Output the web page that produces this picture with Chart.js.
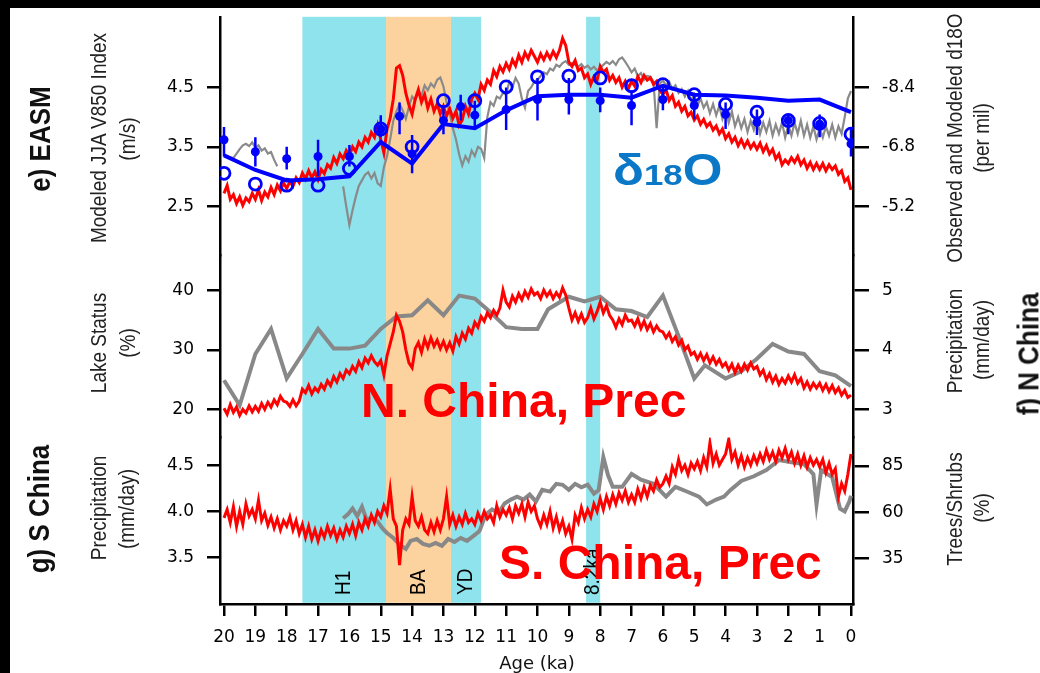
<!DOCTYPE html>
<html>
<head>
<meta charset="utf-8">
<script src="https://cdn.jsdelivr.net/npm/chart.js@4.4.1/dist/chart.umd.min.js"></script>
<style>
  html, body { margin: 0; padding: 0; background: #000; width: 1040px; height: 673px; overflow: hidden; }
  #panel { position: absolute; left: 10px; top: 8px; width: 1030px; height: 665px; background: #fff; }
  #chart { position: absolute; left: 0; top: 0; }
  .t { position: absolute; white-space: nowrap; font-family: "Liberation Sans", Arial, sans-serif; color: #222; font-size: 19px; line-height: 19px; }
  .rot { transform: translate(-50%, -50%) rotate(-90deg) scale(1, 1.17); }
  .big { font-weight: bold; font-size: 26px; line-height: 26px; color: #111; }
  .note { font-weight: bold; font-size: 48px; line-height: 48px; color: #ff0000; }
</style>
</head>
<body>
<div id="panel"><canvas id="chart" width="1030" height="665"></canvas></div>

<!-- left titles -->
<div class="t rot big" style="left:39px; top:139px;">e) EASM</div>
<div class="t rot" style="left:98px; top:138px;">Modeled JJA V850 Index</div>
<div class="t rot" style="left:127px; top:139px;">(m/s)</div>
<div class="t rot" style="left:98px; top:343px;">Lake Status</div>
<div class="t rot" style="left:127px; top:343px;">(%)</div>
<div class="t rot big" style="left:38px; top:509px;">g) S China</div>
<div class="t rot" style="left:98px; top:508px;">Precipitation</div>
<div class="t rot" style="left:126px; top:509px;">(mm/day)</div>

<!-- right titles -->
<div class="t rot" style="left:954px; top:138px;">Observed and Modeled d18O</div>
<div class="t rot" style="left:981px; top:138px;">(per mil)</div>
<div class="t rot" style="left:954px; top:341px;">Precipitation</div>
<div class="t rot" style="left:981px; top:340px;">(mm/day)</div>
<div class="t rot big" style="left:1028px; top:354px;">f) N China</div>
<div class="t rot" style="left:954px; top:509px;">Trees/Shrubs</div>
<div class="t rot" style="left:981px; top:508px;">(%)</div>

<div class="t" style="left:537px; top:662px; transform: translate(-50%, -50%); font-family: 'DejaVu Sans', sans-serif; font-size: 18px; color: #111;">Age (ka)</div>

<!-- annotations -->
<div class="t" style="left:613px; top:148px; font-weight:bold; font-size:44px; line-height:44px; color:#0a78c6; transform: scaleX(1.16); transform-origin: left center;">δ<span style="font-size:30px;">18</span>O</div>
<div class="t note" style="left:361px; top:377px;">N. China, Prec</div>
<div class="t note" style="left:499px; top:539px;">S. China, Prec</div>

<script>
// ages of the tick marks and of the model blue line / circles (ka)
const ageTicks = [20, 19, 18, 17, 16, 15, 14, 13, 12, 11, 10, 9, 8, 7, 6, 5, 4, 3, 2, 1, 0];

// e) modeled JJA V850 index (m/s), every 0.1 ka from 20 to 0
const easmV850 = [
  2.72, 2.85, 2.62, 2.70, 2.55, 2.66, 2.52, 2.64, 2.58, 2.72,
  2.62, 2.78, 2.60, 2.74, 2.66, 2.82, 2.70, 2.86, 2.76, 2.90,
  2.80, 2.92, 2.84, 2.98, 2.90, 3.06, 2.96, 3.10, 2.98, 3.08,
  2.95, 3.12, 3.05, 3.20, 3.14, 3.32, 3.22, 3.38, 3.30, 3.44,
  3.36, 3.50, 3.42, 3.58, 3.50, 3.66, 3.58, 3.74, 3.66, 3.86,
  3.62, 3.40, 3.80, 3.98, 4.30, 4.82, 4.86, 4.70, 4.40, 4.20,
  4.05, 4.30, 4.46, 4.25, 4.38, 4.15, 4.30, 4.10, 4.22, 4.05,
  4.18, 4.02, 4.14, 3.98, 4.10, 3.86, 3.95, 4.18, 4.05, 4.30,
  4.40, 4.30, 4.55, 4.45, 4.62, 4.55, 4.78, 4.68, 4.85, 4.76,
  4.90, 4.80, 4.96, 4.86, 5.04, 4.92, 5.08, 4.98, 5.12, 5.02,
  4.92, 5.06, 4.96, 5.08, 4.98, 5.10, 5.00, 5.12, 5.32, 5.20,
  4.92, 4.85, 4.95, 4.78, 4.82, 4.66, 4.72, 4.55, 4.68, 4.62,
  4.85, 4.75, 4.80, 4.62, 4.70, 4.58, 4.66, 4.50, 4.60, 4.48,
  4.60, 4.52, 4.68, 4.58, 4.70, 4.62, 4.66, 4.55, 4.60, 4.45,
  4.38, 4.46, 4.28, 4.36, 4.18, 4.25, 4.10, 4.18, 4.02, 4.08,
  3.95, 4.02, 3.88, 3.96, 3.84, 3.90, 3.78, 3.85, 3.72, 3.80,
  3.64, 3.72, 3.58, 3.66, 3.52, 3.62, 3.50, 3.60, 3.48, 3.56,
  3.46, 3.56, 3.42, 3.52, 3.38, 3.46, 3.30, 3.38, 3.20, 3.28,
  3.22, 3.32, 3.24, 3.34, 3.20, 3.28, 3.14, 3.24, 3.12, 3.22,
  3.12, 3.22, 3.10, 3.20, 3.12, 3.18, 3.04, 3.10, 2.92, 2.98,
  2.78
];

// e) observed speleothem d18O (per mil), same 0.1 ka grid, null = no record
const obsD18O = [
  null, -6.55, -6.52, -6.50, -6.62, -6.74, -6.84, -6.88, -6.82, -6.92,
  -6.78, -6.84, -6.70, -6.76, -6.62, -6.66, -6.45, -6.28, null, null,
  null, null, null, null, null, null, null, null, null, null,
  null, null, null, null, null, null, null, null, -5.74, -5.20,
  -4.70, -5.10, -5.45, -5.75, -5.90, -6.05, -6.12, -5.95, -6.10, -5.82,
  -5.75, -6.25, -6.55, -7.00, -7.50, -7.75, -7.95, -7.78, -7.55, -7.88,
  -8.15, -8.05, -8.30, -8.18, -8.45, -8.32, -8.50, -8.40, -8.60, -8.66,
  -8.42, -8.00, -7.70, -7.30, -7.00, -6.60, -6.30, -6.55, -6.40, -6.70,
  -6.55, -6.80, -6.75, -6.50, -7.60, -8.00, -7.90, -8.15, -8.10, -8.25,
  -8.20, -8.55, -8.40, -8.65, -8.50, -8.10, -7.85, -8.30, -8.40, -8.55,
  -8.60, -8.70, -8.80, -8.75, -8.90, -8.85, -9.00, -8.95, -9.05, -9.10,
  -9.00, -9.05, -9.00, -8.95, -9.02, -8.92, -8.98, -8.88, -8.95, -8.85,
  -8.92, -9.00, -9.08, -9.02, -9.10, -9.00, -9.15, -9.20, -9.08, -8.95,
  -8.80, -8.90, -8.70, -8.78, -8.60, -8.70, -8.68, -8.55, -7.30, -8.50,
  -8.58, -8.45, -8.55, -8.35, -8.45, -8.25, -8.35, -8.15, -8.30, -8.05,
  -8.20, -7.90, -8.10, -7.85, -8.00, -7.70, -7.95, -7.65, -7.90, -7.55,
  -7.80, -7.45, -7.75, -7.35, -7.60, -7.30, -7.55, -7.20, -7.50, -7.25,
  -7.55, -7.15, -7.45, -7.20, -7.50, -7.10, -7.40, -7.15, -7.45, -7.05,
  -7.40, -7.10, -7.45, -7.15, -7.50, -7.10, -7.40, -7.05, -7.35, -7.00,
  -7.30, -7.05, -7.35, -7.10, -7.40, -7.05, -7.35, -7.15, -7.60, -8.10,
  -8.30
];

// e) modeled d18O line and open circles, at ageTicks
const d18oModel = [-6.57, -6.18, -5.90, -5.93, -6.01, -6.93, -6.35, -7.41, -7.30, -7.78, -8.16, -8.20, -8.20, -8.12, -8.44, -8.20, -8.18, -8.12, -8.04, -8.07, -7.73];
const d18oOpen = [-6.09, -5.80, -5.77, -5.77, -6.22, -7.28, -6.80, -8.04, -8.04, -8.41, -8.68, -8.70, -8.65, -8.44, -8.47, -8.20, -7.94, -7.73, -7.51, -7.43, -7.14];

// e) filled d18O dots with error bars
const dotAges = [20, 19, 18, 17, 16, 15, 14.4, 14, 13, 12.45, 12, 11, 10, 9, 8, 7, 6, 5, 4, 3, 2, 1, 0];
const dotD18O = [-6.99, -6.67, -6.48, -6.54, -6.54, -7.28, -7.62, -6.61, -7.51, -7.88, -7.65, -7.80, -8.07, -8.07, -8.04, -7.91, -8.07, -7.91, -7.67, -7.46, -7.51, -7.41, -6.88];
const dotErrTop = [-7.33, -7.06, -6.80, -6.99, -6.85, -7.65, -7.99, -7.12, -7.86, -8.20, -8.04, -8.39, -8.65, -8.65, -8.39, -8.31, -8.47, -8.20, -7.99, -7.80, -7.67, -7.67, -7.33];
const dotErrBottom = [-6.54, -6.27, -6.19, -6.01, -6.27, -7.06, -7.14, -6.09, -7.14, -7.51, -7.25, -7.25, -7.51, -7.67, -7.73, -7.38, -7.78, -7.54, -7.28, -7.12, -7.14, -7.06, -6.54];

// f) lake status (%)
const lakeAges = [20, 19.5, 19, 18.5, 18, 17.5, 17, 16.5, 16, 15.5, 15, 14.5, 14, 13.5, 13, 12.5, 12, 11.5, 11, 10.5, 10, 9.66, 9, 8.5, 8, 7.5, 7, 6.5, 6, 5.5, 5, 4.66, 4, 3.5, 3, 2.5, 2, 1.5, 1, 0.5, 0];
const lakeStatus = [24.9, 20.7, 29.3, 33.5, 25.2, 29.3, 33.5, 30.2, 30.2, 30.7, 33.5, 35.6, 35.8, 38.3, 35.8, 39.1, 38.6, 36.3, 33.8, 33.5, 33.5, 36.8, 38.9, 38.1, 38.9, 36.8, 36.5, 35.5, 39.1, 32.3, 25.2, 27.4, 25.2, 26.4, 28.5, 31.0, 29.7, 29.3, 26.4, 25.7, 23.9];

// f) N China precipitation (mm/day), 0.1 ka grid
const nPrec = [
  3.02, 2.92, 3.08, 2.95, 3.04, 2.90, 3.00, 2.94, 3.06, 2.96,
  3.05, 2.97, 3.10, 3.00, 3.12, 3.04, 3.16, 3.08, 3.22, 3.14,
  3.12, 3.05, 3.16, 3.06, 3.14, 3.34, 3.28, 3.40, 3.26, 3.36,
  3.30, 3.42, 3.34, 3.48, 3.40, 3.55, 3.46, 3.60, 3.52, 3.66,
  3.60, 3.72, 3.64, 3.80, 3.70, 3.86, 3.78, 3.90, 3.80, 3.74,
  3.82, 3.58, 3.90, 4.10, 4.30, 4.58, 4.48, 4.30, 4.00, 3.78,
  3.70, 4.02, 4.12, 3.96, 4.18, 4.04, 4.20, 4.06, 4.16, 4.02,
  4.14, 4.00, 4.12, 3.98, 4.22, 4.10, 4.28, 4.18, 4.36, 4.28,
  4.46, 4.38, 4.56, 4.48, 4.62, 4.54, 4.66, 4.58, 4.70, 5.00,
  4.80, 4.72, 4.90, 4.80, 4.94, 4.84, 4.98, 4.88, 5.02, 4.92,
  4.96, 4.86, 5.00, 4.90, 4.98, 4.86, 4.96, 4.88, 5.04, 4.92,
  4.70, 4.50, 4.62, 4.48, 4.60, 4.46, 4.54, 4.70, 4.52, 4.64,
  4.80, 4.62, 4.74, 4.58, 4.50, 4.38, 4.52, 4.42, 4.58, 4.48,
  4.50, 4.40, 4.52, 4.36, 4.48, 4.34, 4.44, 4.30, 4.40, 4.32,
  4.30, 4.20, 4.28, 4.14, 4.22, 4.08, 4.16, 4.00, 4.06, 3.92,
  3.96, 3.84, 3.94, 3.82, 3.92, 3.78, 3.88, 3.76, 3.84, 3.72,
  3.78, 3.66, 3.76, 3.62, 3.74, 3.64, 3.76, 3.66, 3.78, 3.68,
  3.72, 3.58, 3.66, 3.50, 3.60, 3.46, 3.56, 3.42, 3.52, 3.44,
  3.56, 3.46, 3.58, 3.44, 3.52, 3.36, 3.46, 3.34, 3.44, 3.36,
  3.44, 3.32, 3.42, 3.30, 3.40, 3.28, 3.36, 3.24, 3.32, 3.20,
  3.24
];

// g) S China precipitation (mm/day), 0.1 ka grid
const sPrec = [
  3.93, 4.02, 3.88, 4.05, 3.84, 4.00, 3.86, 4.08, 3.95, 4.02,
  3.92, 4.12, 3.90, 3.98, 3.85, 3.94, 3.82, 3.92, 3.80, 3.90,
  3.84, 3.94, 3.80, 3.90, 3.76, 3.86, 3.72, 3.84, 3.70, 3.80,
  3.68, 3.80, 3.72, 3.84, 3.74, 3.82, 3.70, 3.80, 3.72, 3.84,
  3.76, 3.86, 3.74, 3.88, 3.80, 3.92, 3.84, 3.96, 3.88, 4.00,
  3.94, 4.06, 3.98, 4.24, 3.92, 3.84, 3.42, 3.80, 3.92, 3.86,
  4.16, 3.90, 3.84, 3.94, 3.80, 3.76, 3.88, 3.78, 3.90, 3.80,
  3.92, 4.16, 3.86, 3.96, 3.84, 3.94, 3.86, 3.98, 3.88, 3.92,
  3.86, 3.98, 3.90, 4.00, 3.92, 3.96, 3.88, 4.06, 3.94, 4.02,
  3.96, 4.04, 3.92, 4.06, 3.98, 4.08, 3.94, 4.10, 4.00, 4.06,
  3.92, 3.84, 3.96, 3.86, 4.00, 3.82, 3.94, 3.80, 3.90, 3.76,
  3.84, 3.70, 3.96, 3.88, 4.04, 3.92, 4.02, 3.94, 4.08, 4.00,
  4.14, 4.02, 4.16, 4.06, 4.18, 4.08, 4.20, 4.12, 4.22, 4.10,
  4.18, 4.10, 4.24, 4.14, 4.26, 4.16, 4.28, 4.22, 4.34, 4.26,
  4.30, 4.38, 4.30, 4.48, 4.40, 4.56, 4.44, 4.50, 4.40, 4.52,
  4.46, 4.54, 4.44, 4.58, 4.48, 4.74, 4.52, 4.62, 4.50, 4.56,
  4.62, 4.78, 4.56, 4.64, 4.50, 4.60, 4.48, 4.58, 4.50, 4.60,
  4.52, 4.62, 4.54, 4.66, 4.56, 4.64, 4.54, 4.66, 4.58, 4.68,
  4.56, 4.64, 4.52, 4.62, 4.50, 4.60, 4.48, 4.58, 4.50, 4.56,
  4.48, 4.56, 4.42, 4.52, 4.40, 4.46, 4.16, 4.30, 4.22, 4.40,
  4.62
];

// g) trees/shrubs pollen (%)
const treeAges = [16.2, 16.05, 15.9, 15.75, 15.6, 15.45, 15.3, 15.1, 14.95, 14.8, 14.6, 14.4, 14.2, 14.05, 13.85, 13.65, 13.45, 13.25, 13.05, 12.85, 12.65, 12.45, 12.25, 12.05, 11.85, 11.65, 11.45, 11.25, 11.05, 10.85, 10.65, 10.45, 10.25, 10.05, 9.85, 9.6, 9.4, 9.2, 9.0, 8.8, 8.6, 8.4, 8.2, 8.05, 7.9, 7.75, 7.6, 7.3, 7.0, 6.7, 6.3, 5.9, 5.6, 5.2, 4.85, 4.6, 4.3, 4.05, 3.85, 3.5, 3.1, 2.7, 2.3, 1.9, 1.5, 1.2, 1.1, 0.95, 0.6, 0.35, 0.2, 0.05, 0];
const treeShrub = [56.8, 58.9, 62.1, 58.0, 63.0, 56.0, 57.0, 55.0, 51.5, 48.8, 46.2, 42.5, 40.3, 44.6, 45.6, 43.0, 42.0, 43.5, 41.9, 45.6, 44.0, 46.2, 44.6, 47.2, 49.9, 58.9, 61.6, 59.5, 64.8, 66.9, 68.5, 66.9, 69.6, 65.9, 72.2, 71.2, 75.4, 74.9, 72.2, 75.4, 73.5, 74.9, 70.1, 72.0, 89.8, 80.0, 73.8, 73.8, 80.7, 77.6, 75.4, 68.5, 73.8, 71.0, 68.5, 64.3, 66.9, 68.5, 72.0, 77.0, 79.5, 82.9, 88.2, 87.1, 86.1, 80.7, 64.3, 82.9, 79.0, 62.0, 60.5, 66.0, 69.0];

// shaded events (ka)
const bandName = ['H1', 'BA', 'YD', '8.2ka'];
const bandStart = [17.5, 14.83, 12.76, 8.45];
const bandEnd = [14.83, 12.76, 11.8, 8.0];
const bandColor = ['#8fe3ec', '#fcd39e', '#8fe3ec', '#8fe3ec'];

// tick labels of the six value axes
const easmTicks = [2.5, 3.5, 4.5];
const d18oTicks = [-8.4, -6.8, -5.2];
const lakeTicks = [20, 30, 40];
const nPrecTicks = [3, 4, 5];
const sPrecTicks = [3.5, 4.0, 4.5];
const treeTicks = [35, 60, 85];

const grid = easmV850.map((v, i) => +(20 - i * 0.1).toFixed(1));
const pts = (xs, ys) => ys.map((y, i) => ({ x: xs[i], y: y }));
const errPts = [];
dotAges.forEach((a, i) => {
  errPts.push({ x: a, y: dotErrTop[i] }, { x: a, y: dotErrBottom[i] }, { x: a, y: null });
});

const tickFont = { family: 'DejaVu Sans', size: 17 };

// one axis per panel, stacked on the left and on the right
function valueAxis(pos, weight, min, max, ticks, decimals, reverse) {
  return {
    type: 'linear',
    position: pos,
    stack: pos,
    stackWeight: weight,
    min: min,
    max: max,
    reverse: !!reverse,
    border: { display: true, color: '#000', width: 2.5 },
    grid: { drawOnChartArea: false, drawTicks: true, tickLength: pos === 'left' ? 13 : 16, color: '#000', lineWidth: 2.5 },
    ticks: { padding: 13, color: '#000', font: tickFont, callback: v => v.toFixed(decimals) },
    afterBuildTicks: s => { s.ticks = ticks.map(v => ({ value: v })); },
    afterFit: s => { s.width = pos === 'left' ? 210 : 187; s.paddingTop = 0; s.paddingBottom = 0; }
  };
}

const bandPlugin = {
  id: 'bands',
  beforeDatasetsDraw(chart) {
    const { ctx, chartArea: a, scales: { x } } = chart;
    ctx.save();
    bandStart.forEach((s, i) => {
      const x0 = x.getPixelForValue(s);
      const x1 = x.getPixelForValue(bandEnd[i]);
      ctx.fillStyle = bandColor[i];
      ctx.fillRect(Math.min(x0, x1), a.top, Math.abs(x1 - x0), a.bottom - a.top - 1.2);
    });
    ctx.fillStyle = '#000';
    ctx.font = '19px "Liberation Sans", Arial, sans-serif';
    ctx.textBaseline = 'middle';
    ctx.textAlign = 'left';
    bandStart.forEach((s, i) => {
      const cx = x.getPixelForValue((s + bandEnd[i]) / 2);
      ctx.save();
      ctx.translate(cx, a.bottom - 9);
      ctx.rotate(-Math.PI / 2);
      ctx.scale(1, 1.17);
      ctx.fillText(bandName[i], 0, 0);
      ctx.restore();
    });
    ctx.restore();
  }
};

new Chart(document.getElementById('chart'), {
  type: 'line',
  data: {
    datasets: [
      { data: pts(ageTicks, d18oOpen), yAxisID: 'rE', showLine: false, pointRadius: 6, pointBorderWidth: 2.8,
        pointBorderColor: '#0000ff', pointBackgroundColor: 'rgba(0,0,0,0)', order: 1 },
      { data: pts(dotAges, dotD18O), yAxisID: 'rE', showLine: false, pointRadius: 4.5, pointBorderWidth: 0,
        pointBackgroundColor: '#0000ff', order: 2 },
      { data: errPts, yAxisID: 'rE', borderColor: '#0000ff', borderWidth: 2.5, pointRadius: 0, spanGaps: false, order: 3 },
      { data: pts(ageTicks, d18oModel), yAxisID: 'rE', borderColor: '#0000ff', borderWidth: 4, pointRadius: 0, order: 4 },
      { data: pts(grid, easmV850), yAxisID: 'yE', borderColor: '#ff0000', borderWidth: 3, pointRadius: 0, order: 6 },
      { data: pts(grid, obsD18O), yAxisID: 'rE', borderColor: '#8a8a8a', borderWidth: 2.2, pointRadius: 0, spanGaps: false, order: 7 },
      { data: pts(grid, nPrec), yAxisID: 'rF', borderColor: '#ff0000', borderWidth: 3, pointRadius: 0, order: 6 },
      { data: pts(lakeAges, lakeStatus), yAxisID: 'yF', borderColor: '#888888', borderWidth: 4, pointRadius: 0, order: 7 },
      { data: pts(grid, sPrec), yAxisID: 'yG', borderColor: '#ff0000', borderWidth: 3, pointRadius: 0, order: 6 },
      { data: pts(treeAges, treeShrub), yAxisID: 'rG', borderColor: '#888888', borderWidth: 4, pointRadius: 0, order: 7 }
    ]
  },
  options: {
    responsive: false,
    animation: false,
    devicePixelRatio: 1,
    layout: { padding: 0 },
    elements: { line: { tension: 0 } },
    plugins: { legend: { display: false }, tooltip: { enabled: false } },
    scales: {
      x: {
        type: 'linear',
        position: 'bottom',
        reverse: true,
        min: -0.0638,
        max: 20.1276,
        border: { display: true, color: '#000', width: 2.5 },
        grid: { drawOnChartArea: false, drawTicks: true, tickLength: 12, color: '#000', lineWidth: 2.5 },
        ticks: { padding: 11, color: '#000', font: tickFont, maxRotation: 0, autoSkip: false, callback: v => String(v) },
        afterBuildTicks: s => { s.ticks = ageTicks.map(v => ({ value: v })); },
        afterFit: s => { s.height = 69; s.paddingLeft = 0; s.paddingRight = 0; }
      },
      // left stack: the last one defined ends up on top
      yG: valueAxis('left', 169, 3.0, 4.7979, sPrecTicks, 1),
      yF: valueAxis('left', 185, 15.289, 45.868, lakeTicks, 0),
      yE: valueAxis('left', 242, 1.6818, 5.6818, easmTicks, 1),
      // right stack: the first one defined ends up on top
      rE: valueAxis('right', 242, -10.2909, -3.8909, d18oTicks, 1, true),
      rF: valueAxis('right', 185, 2.5289, 5.5868, nPrecTicks, 0),
      rG: valueAxis('right', 169, 10.532, 100.426, treeTicks, 0)
    }
  },
  plugins: [bandPlugin]
});
</script>
</body>
</html>
